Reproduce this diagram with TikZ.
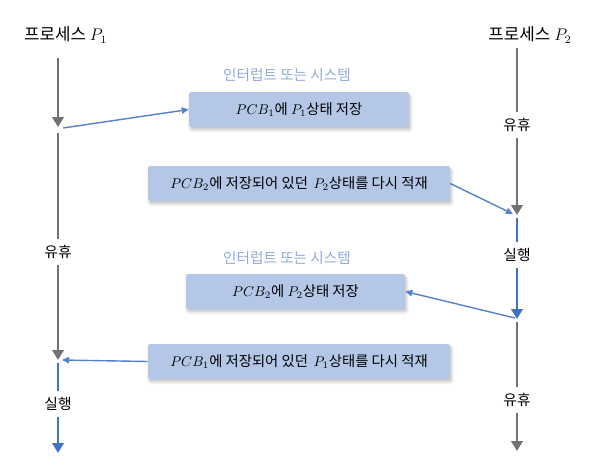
\documentclass[tikz,border=0pt]{standalone}
\usepackage{fontspec}
\setmainfont{Noto Sans CJK KR}
\usetikzlibrary{arrows.meta,shadows.blur}
\definecolor{idlegray}{HTML}{767171}
\definecolor{runblue}{HTML}{4472C4}
\definecolor{boxblue}{HTML}{B4C7E7}
\definecolor{intblue}{HTML}{8FAADC}
\tikzset{idleline/.style={draw=idlegray,line width=2.1pt},
  idlearrow/.style={idleline,-{Triangle[length=7pt,width=8pt]}},
  runline/.style={draw=runblue,line width=2.1pt},
  runarrow/.style={runline,-{Triangle[length=7pt,width=8pt]}},
  savearrow/.style={-{Triangle[length=5pt,width=4.5pt]},draw=runblue!90!white,line width=1pt},
  procbox/.style={fill=boxblue,rounded corners=1.5pt,minimum height=.875cm,font=\fontsize{10.2}{12}\selectfont,
    blur shadow={shadow xshift=1pt,shadow yshift=-2pt,shadow blur steps=6,shadow opacity=25}},
  intlabel/.style={text=intblue,font=\fontsize{10.4}{12}\selectfont},
  statelabel/.style={font=\fontsize{10.5}{12}\selectfont,inner xsep=2pt,inner ysep=4.5pt},
  proctitle/.style={font=\fontsize{12}{14}\selectfont}}
\begin{document}
\begin{tikzpicture}[x=1cm,y=-1cm]
\path[use as bounding box] (0,0) rectangle (14.775,11.825);
% process P1
\node[proctitle] (p1title) at (1.64,.875) {프로세스 $P_1$};
\coordinate (p1a) at (1.45,1.45);
\coordinate (p1b) at (1.45,3.175);
\coordinate (p1c) at (1.45,3.325);
\node[statelabel] (p1idle) at (1.45,6.3) {유휴};
\coordinate (p1d) at (1.45,9.0);
\coordinate (p1e) at (1.45,9.075);
\node[statelabel] (p1run) at (1.45,10.1) {실행};
\coordinate (p1f) at (1.45,11.325);
\draw[idlearrow] (p1a)--(p1b);
\draw[idleline] (p1c)--(p1idle);
\draw[idlearrow] (p1idle)--(p1d);
\draw[runline] (p1e)--(p1run);
\draw[runarrow] (p1run)--(p1f);
% process P2
\node[proctitle] (p2title) at (13.25,.875) {프로세스 $P_2$};
\coordinate (p2a) at (12.925,1.2);
\node[statelabel] (p2idle) at (12.925,3.125) {유휴};
\coordinate (p2b) at (12.925,5.375);
\coordinate (p2c) at (12.925,5.45);
\node[statelabel] (p2run) at (12.925,6.375) {실행};
\coordinate (p2d) at (12.925,7.975);
\coordinate (p2e) at (12.925,8.05);
\node[statelabel] (p2rest) at (12.925,10.0) {유휴};
\coordinate (p2f) at (12.925,11.275);
\draw[idleline] (p2a)--(p2idle);
\draw[idlearrow] (p2idle)--(p2b);
\draw[runline] (p2c)--(p2run);
\draw[runarrow] (p2run)--(p2d);
\draw[idleline] (p2e)--(p2rest);
\draw[idlearrow] (p2rest)--(p2f);
% context switch boxes
\node[intlabel] (int1) at (7.175,1.875) {인터럽트 또는 시스템};
\node[procbox,minimum width=5.5cm] (save1) at (7.475,2.7375) {$PCB_1$에 $P_1$상태 저장};
\node[procbox,minimum width=7.55cm] (load2) at (7.475,4.5875) {$PCB_2$에 저장되어 있던 \,$P_2$상태를 다시 적재};
\node[intlabel] (int2) at (7.175,6.45) {인터럽트 또는 시스템};
\node[procbox,minimum width=5.475cm] (save2) at (7.3875,7.2875) {$PCB_2$에 $P_2$상태 저장};
\node[procbox,minimum width=7.55cm] (load1) at (7.475,9.0375) {$PCB_1$에 저장되어 있던 \,$P_1$상태를 다시 적재};
% switch arrows
\coordinate (s1from) at (1.575,3.2);
\coordinate (l2to) at (12.825,5.35);
\coordinate (s2from) at (12.875,7.95);
\coordinate (l1to) at (1.55,9.0);
\draw[savearrow] (s1from)--(save1.west);
\draw[savearrow] (load2.east)--(l2to);
\draw[savearrow] (s2from)--(save2.east);
\draw[savearrow] (load1.west)--(l1to);
\end{tikzpicture}
\end{document}
